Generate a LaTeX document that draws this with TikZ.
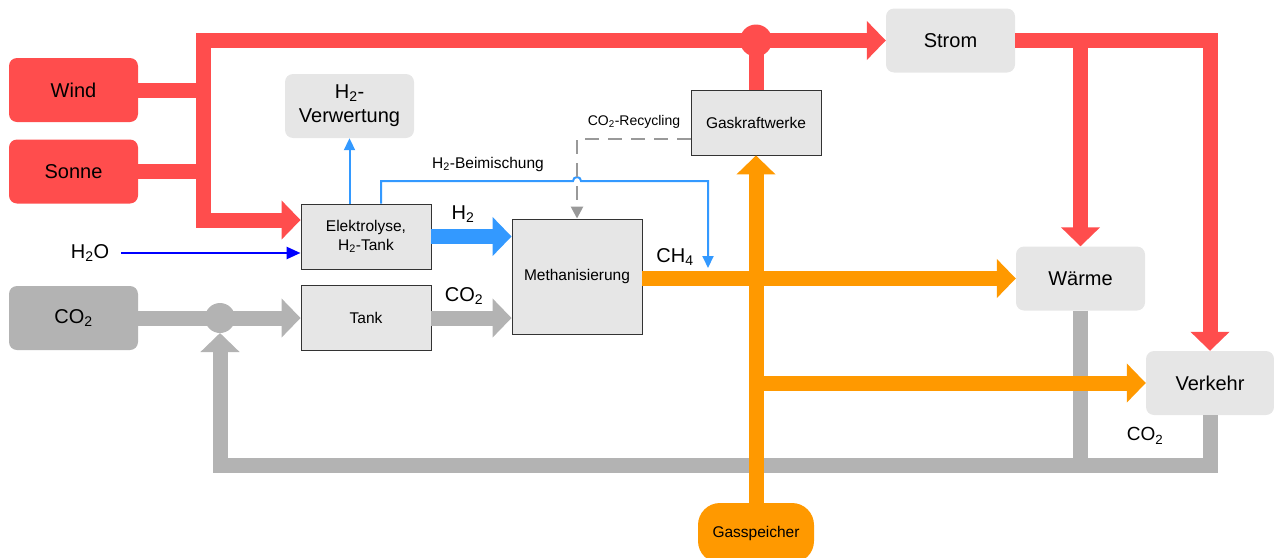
\documentclass[tikz,border=0pt]{standalone}
\usepackage{fontspec}
\setmainfont{Liberation Sans}
\usetikzlibrary{arrows.meta}
\definecolor{rd}{HTML}{FF4D4D}
\definecolor{og}{HTML}{FF9900}
\definecolor{gl}{HTML}{B3B3B3}
\definecolor{bx}{HTML}{E6E6E6}
\definecolor{bl}{HTML}{3399FF}
\definecolor{db}{HTML}{0000FF}
\definecolor{dg}{HTML}{999999}
\newcommand\sub[1]{\textsubscript{#1}}
\tikzset{
  bigfont/.style={font=\fontsize{20}{24}\selectfont},
  midfont/.style={font=\fontsize{15.5}{19}\selectfont},
  smallfont/.style={font=\fontsize{14}{17}\selectfont},
  srcbox/.style={fill=rd, rounded corners=8pt, minimum width=129pt, minimum height=64pt, inner sep=0pt, bigfont, align=center},
  softbox/.style={fill=bx, rounded corners=8pt, minimum width=129pt, minimum height=64pt, inner sep=0pt, bigfont, align=center},
  procbox/.style={fill=bx, draw=black!80, line width=0.9pt, minimum width=130pt, minimum height=65pt, inner sep=0pt, midfont, align=center},
  thick tip/.style={-{Triangle[width=38pt,length=19pt]}},
  redflow/.style={draw=rd, line width=15pt, line join=miter},
  orflow/.style={draw=og, line width=15pt, line join=miter},
  grflow/.style={draw=gl, line width=15pt, line join=miter},
  blflow/.style={draw=bl, line width=15pt},
  thinblue/.style={draw=bl, line width=2pt, line join=miter, -{Triangle[width=11pt,length=12pt]}},
  recyc/.style={draw=dg, line width=2.5pt, dash pattern=on 14pt off 9pt, -{Triangle[width=12pt,length=12pt]}},
  lbl/.style={inner sep=0pt}
}
\begin{document}
\begin{tikzpicture}[x=1pt,y=-1pt]
\useasboundingbox (0,0) rectangle (1274,557);
% nodes
\node[srcbox] (wind) at (73.5,90) {Wind};
\node[srcbox] (sonne) at (73.5,171.5) {Sonne};
\node[srcbox, fill=gl] (co2) at (73.5,318) {CO\sub2};
\node[softbox] (verw) at (349.5,106) {H\sub2-\\Verwertung};
\node[procbox] (elek) at (366,236.5) {Elektrolyse,\\H\sub2-Tank};
\node[procbox] (tank) at (366,318) {Tank};
\node[procbox, minimum height=115pt] (meth) at (577,276.5) {Methanisierung};
\node[procbox] (gkw) at (756,122.5) {Gaskraftwerke};
\node[softbox] (strom) at (950.5,40.5) {Strom};
\node[softbox] (waerme) at (1080.5,278.5) {Wärme};
\node[softbox, minimum width=128pt] (verkehr) at (1210,383) {Verkehr};
\node[fill=og, rounded corners=22pt, minimum width=116pt, minimum height=60pt, inner sep=0pt, midfont] (gas) at (756,533) {Gasspeicher};
\coordinate (loopL) at (220,465);
\coordinate (bm) at (708,268);
% gray CO2 loop
\draw[grflow] (waerme.south) -- (waerme.south |- loopL);
\draw[grflow, thick tip] (verkehr.south) |- (loopL) -- (220,333);
\draw[grflow, thick tip] (co2.east) -- (tank.west);
\draw[grflow, thick tip] (tank.east) -- (meth.west |- tank.east);
\node[circle, fill=gl, minimum size=30pt, inner sep=0pt] (cj) at (220,318) {};
% orange
\draw[orflow, thick tip] (meth.east |- waerme.west) -- (waerme.west);
\draw[orflow, thick tip] (gkw.south |- verkehr.west) -- (verkehr.west);
\draw[orflow, thick tip] (gas.north) -- (gkw.south);
% red
\draw[redflow] (wind.east) -- (203.5,90);
\draw[redflow] (sonne.east) -- (203.5,171.5);
\draw[redflow, {Triangle[width=38pt,length=19pt]}-{Triangle[width=38pt,length=19pt]}] (elek.west |- 0,220) -- (203.5,220) -- (203.5,40.5) -- (strom.west);
\draw[redflow] (gkw.north) -- (gkw.north |- strom.west);
\node[circle, fill=rd, minimum size=32pt, inner sep=0pt] (rj) at (gkw.north |- strom.west) {};
\draw[redflow, thick tip] (strom.east) -| (verkehr.north);
\draw[redflow, thick tip] (waerme.north |- strom.east) -- (waerme.north);
% blue
\draw[blflow, thick tip] (elek.east) -- (meth.west |- elek.east);
\draw[thinblue] (verw.south |- elek.north) -- (verw.south);
\draw[thinblue] ([xshift=15pt]elek.north) -- (381,181) -- (573,181) arc[start angle=180, end angle=0, radius=4pt] -- (708,181) -- (bm);
\node[bigfont, lbl] (h2o) at (90,253) {H\sub2O};
\draw[db, line width=2.5pt, -{Triangle[width=12pt,length=14pt]}] ([xshift=12pt]h2o.east) -- (elek.west |- h2o);
% recycling
\draw[recyc] ([yshift=-16.5pt]gkw.west) -| (meth.north);
% labels
\node[bigfont, lbl] (lh2) at (463,214) {H\sub2};
\node[bigfont, lbl] (lco2a) at (464,296) {CO\sub2};
\node[bigfont, lbl] (lch4) at (675,257) {CH\sub4};
\node[bigfont, lbl, font=\fontsize{19}{22}\selectfont] (lco2b) at (1145,436) {CO\sub2};
\node[smallfont, lbl] (lrec) at (634,122) {CO\sub2-Recycling};
\node[lbl, font=\fontsize{15.5}{18}\selectfont] (lbei) at (488,164) {H\sub2-Beimischung};
\end{tikzpicture}
\end{document}
